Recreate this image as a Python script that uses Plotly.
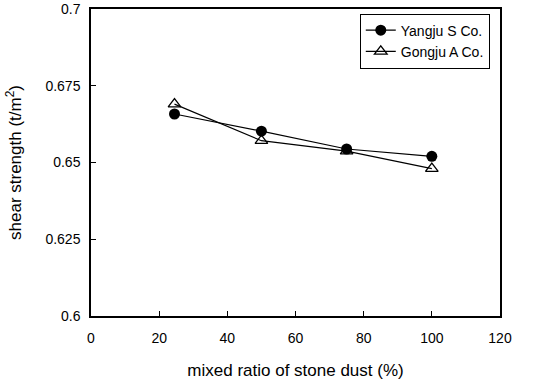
import plotly.graph_objects as go

x_ratio = [24.5, 50, 75, 100]
yangju = [0.6658, 0.6602, 0.6544, 0.6520]
gongju = [0.6690, 0.6571, 0.6537, 0.6480]
x_ticks = [0, 20, 40, 60, 80, 100, 120]
y_ticks = [0.6, 0.625, 0.65, 0.675, 0.7]
y_tick_text = ["0.6", "0.625", "0.65", "0.675", "0.7"]

fig = go.Figure()
fig.add_trace(go.Scatter(x=x_ratio, y=yangju, mode="lines+markers", name="Yangju S Co.",
                         line=dict(color="black", width=1.2),
                         marker=dict(symbol="circle", size=11, color="black")))
fig.add_trace(go.Scatter(x=x_ratio, y=gongju, mode="lines+markers", name="Gongju A Co.",
                         line=dict(color="black", width=1.2),
                         marker=dict(symbol="triangle-up-open", size=11, color="black",
                                     line=dict(width=1.3, color="black"))))

font = dict(family="Liberation Sans, Arial, sans-serif", size=14, color="black")
fig.update_layout(
    width=548, height=381,
    margin=dict(l=91, r=48, t=9, b=65),
    paper_bgcolor="white", plot_bgcolor="white",
    font=font,
    showlegend=True,
    legend=dict(x=0.975, y=0.985, xanchor="right", yanchor="top",
                bordercolor="black", borderwidth=1, bgcolor="white",
                font=dict(family="Liberation Sans, Arial, sans-serif", size=14, color="black"),
                itemwidth=30, tracegroupgap=0),
    xaxis=dict(range=[0, 120], tickvals=x_ticks, ticks="inside", ticklen=5,
               tickcolor="black", showline=True, linecolor="black", linewidth=1.5,
               mirror=True, showgrid=False, zeroline=False, automargin=False,
               ticklabelstandoff=8,
               title=dict(text="mixed ratio of stone dust (%)", standoff=20)),
    yaxis=dict(range=[0.6, 0.7], tickvals=y_ticks, ticktext=y_tick_text, ticks="inside",
               ticklen=5, tickcolor="black", showline=True, linecolor="black", linewidth=1.5,
               mirror=True, showgrid=False, zeroline=False, automargin=False,
               ticklabelstandoff=6,
               title=dict(text="shear strength (t/m<sup>2</sup>)", standoff=19)),
)
fig.write_html("out.html", post_script="document.body.style.margin='0';",
               config={"displayModeBar": False})
